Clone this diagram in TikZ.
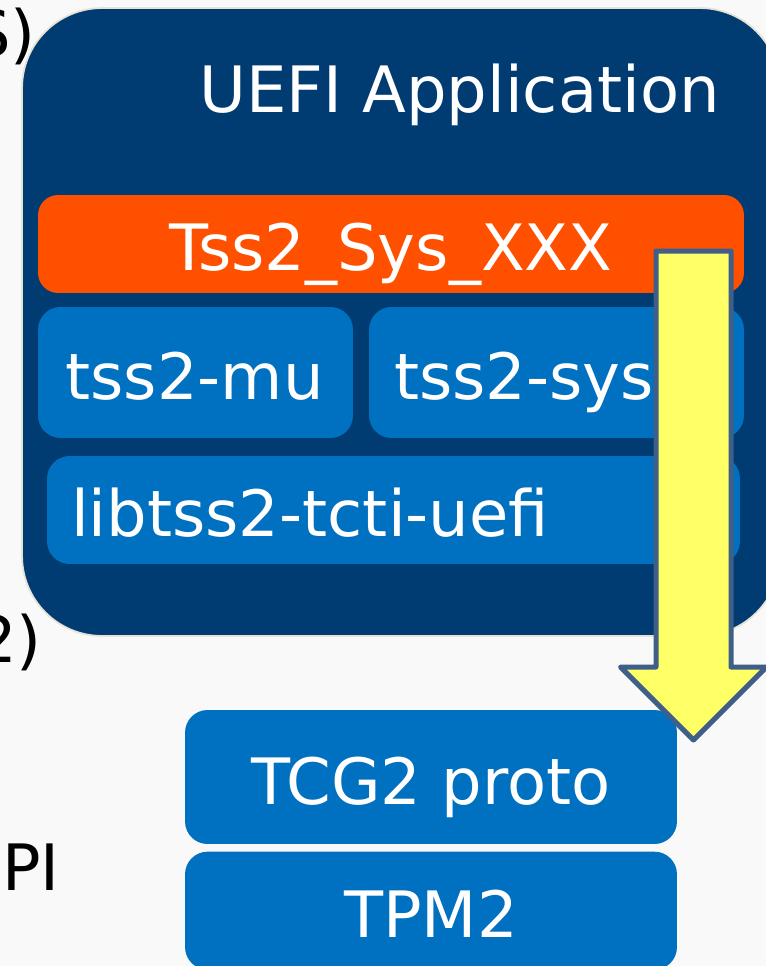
\documentclass[tikz,border=0pt]{standalone}
\usepackage{fontspec}
\setmainfont{DejaVu Sans}
\usetikzlibrary{positioning,calc}
\definecolor{uefinavy}{HTML}{003B72}
\definecolor{tssorange}{HTML}{FF5000}
\definecolor{libblue}{HTML}{0070C0}
\definecolor{flowyellow}{HTML}{FFFF66}
\definecolor{flowedge}{HTML}{3E5F8A}
\definecolor{pagegray}{HTML}{F9F9F9}
\definecolor{rimbeige}{HTML}{E6E2D6}

\begin{document}
\begin{tikzpicture}[x=0.02cm, y=-0.02cm,
    every node/.style={font=\fontsize{36.4}{40}\selectfont},
    blk/.style={fill=libblue, text=white, rounded corners=0.45cm, inner sep=0pt,
      text height=1.3cm, text depth=0.22cm},
    lblk/.style={blk, align=left, inner xsep=0.5cm},
    arrowbody/.style={fill=flowyellow, draw=flowedge, line width=0.1cm, line join=round}]
      \useasboundingbox (0,0) rectangle (766,966);
      \fill[pagegray] (0,0) rectangle (766,966);
      \clip (0,0) rectangle (766,966);

      % outer application frame
      \node(uefi) [fill=uefinavy, draw=rimbeige, line width=1pt, rounded corners=1.6cm,
        minimum width=15.16cm, minimum height=12.56cm] at (401,322) {};
      \node(title) [anchor=base east, text=white] at (726,113) {UEFI Application};

      \node(sysxxx) [blk, fill=tssorange, rounded corners=0.4cm,
        minimum width=14.12cm, minimum height=1.96cm] at (391,244) {Tss2\_Sys\_XXX};
      \node(mu) [lblk, inner xsep=0.55cm, text width=5.2cm, minimum height=2.62cm] at (195.5,372.5) {tss2-mu};
      \node(sys) [lblk, text width=6.5cm, minimum height=2.62cm] at (556.5,372.5) {tss2-sys};
      \node(tcti) [lblk, inner xsep=0.48cm, text width=12.9cm, minimum height=2.16cm] at (393.5,510) {libtss2-tcti-uefi};

      % firmware side
      \node(tcg) [blk, minimum width=9.84cm, minimum height=2.68cm] at (431,777) {TCG2 proto};
      \node(tpm) [blk, minimum width=9.84cm, minimum height=2.36cm, below=0.14cm of tcg] {TPM2};

      % labels cut at the left edge
      \node(cutos) [anchor=base east] at (42,57) {S)};
      \node(cuttwo) [anchor=base east] at (48,662) {2)};
      \node(cutapi) [anchor=base east] at (66,890) {PI};

      \coordinate(aftop) at (693.5,251);
      \coordinate(aftip) at (693.5,740);
      \draw[arrowbody] ($(aftop)+(-37.5,0)$) -- ($(aftop)+(37.5,0)$)
        -- ($(aftip)+(37.5,-73)$) -- ($(aftip)+(73,-73)$) -- (aftip)
        -- ($(aftip)+(-73,-73)$) -- ($(aftip)+(-37.5,-73)$) -- cycle;
\end{tikzpicture}
\end{document}
